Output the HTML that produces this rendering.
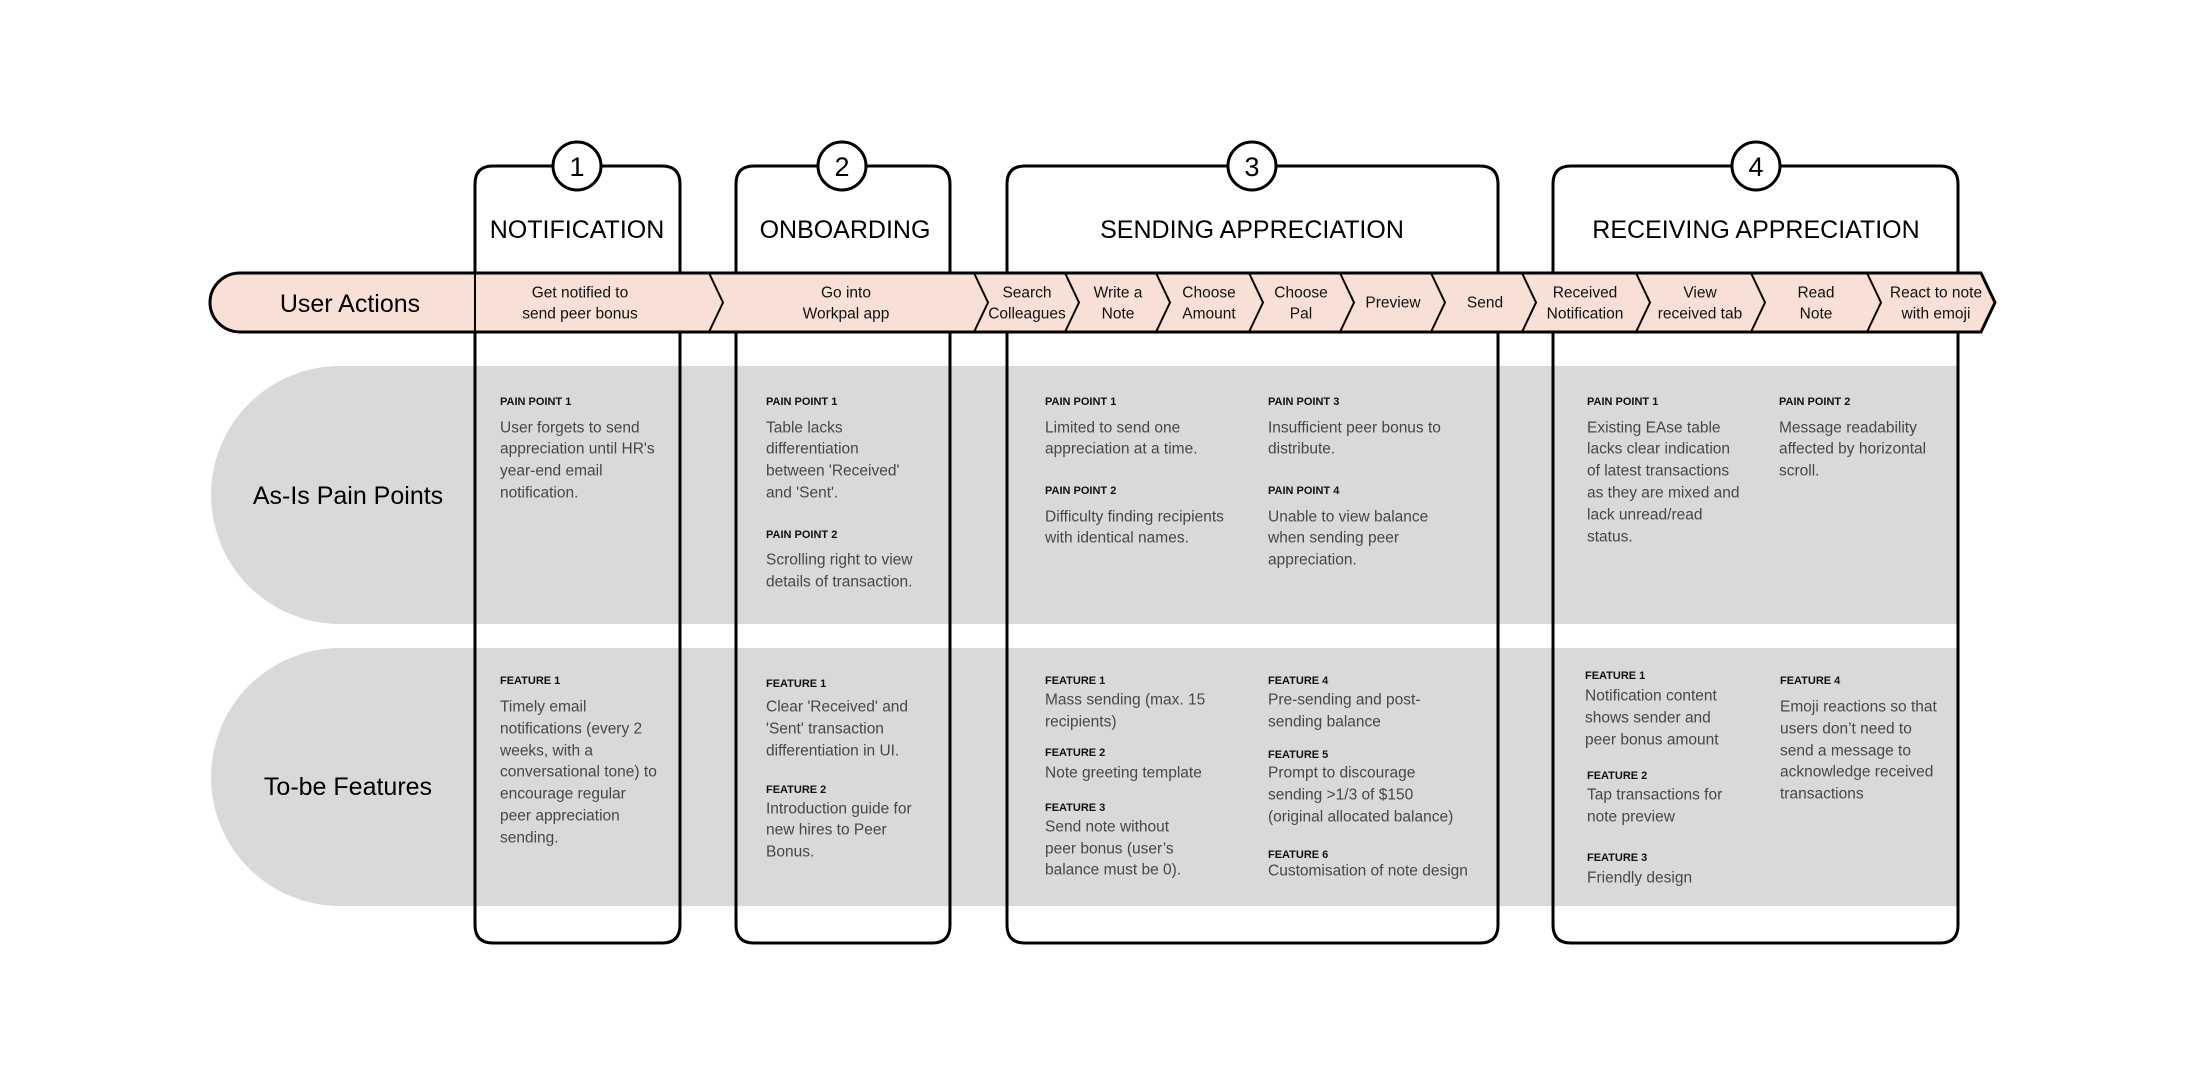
<!DOCTYPE html>
<html><head><meta charset="utf-8"><style>
html,body{margin:0;padding:0;background:#fff;}
svg{display:block;}
text{font-family:"Liberation Sans",sans-serif;}
.b{font-size:15.5px;fill:#474747;dominant-baseline:central;}
.h{font-size:11px;font-weight:bold;fill:#111;dominant-baseline:central;}
.s{font-size:15.5px;fill:#111;dominant-baseline:central;text-anchor:middle;}
.t{font-size:25px;fill:#000;dominant-baseline:central;text-anchor:middle;}
.n{font-size:27px;fill:#000;dominant-baseline:central;text-anchor:middle;}
</style></head><body>
<svg width="2208" height="1090" viewBox="0 0 2208 1090" xmlns="http://www.w3.org/2000/svg">
<!-- gray bands -->
<path d="M340,366 H1957 V624 H340 A129,129 0 0 1 340,366 Z" fill="#d9d9d9"/>
<path d="M340,648 H1957 V906 H340 A129,129 0 0 1 340,648 Z" fill="#d9d9d9"/>

<!-- boxes -->
<g fill="none" stroke="#000" stroke-width="3">
<path d="M475,184 Q475,166 493,166 H662 Q680,166 680,184 V925 Q680,943 662,943 H493 Q475,943 475,925 Z"/>
<path d="M736,184 Q736,166 754,166 H932 Q950,166 950,184 V925 Q950,943 932,943 H754 Q736,943 736,925 Z"/>
<path d="M1007,184 Q1007,166 1025,166 H1480 Q1498,166 1498,184 V925 Q1498,943 1480,943 H1025 Q1007,943 1007,925 Z"/>
<path d="M1553,184 Q1553,166 1571,166 H1940 Q1958,166 1958,184 V925 Q1958,943 1940,943 H1571 Q1553,943 1553,925 Z"/>
</g>
<g fill="#fff" stroke="#000" stroke-width="3">
<circle cx="577" cy="166" r="24"/><circle cx="842" cy="166" r="24"/>
<circle cx="1252" cy="166" r="24"/><circle cx="1756" cy="166" r="24"/>
</g>
<text class="n" x="577" y="167">1</text><text class="n" x="842" y="167">2</text>
<text class="n" x="1252" y="167">3</text><text class="n" x="1756" y="167">4</text>
<text class="t" x="577" y="230">NOTIFICATION</text>
<text class="t" x="845" y="230">ONBOARDING</text>
<text class="t" x="1252" y="230">SENDING APPRECIATION</text>
<text class="t" x="1756" y="230">RECEIVING APPRECIATION</text>

<!-- user actions band -->
<path d="M240,273 H1981 L1995,302.5 L1981,332 H240 A30,29.5 0 0 1 240,273 Z" fill="#f9e0d7" stroke="#000" stroke-width="3"/>
<g fill="none" stroke="#000" stroke-width="2">
<line x1="475" y1="273" x2="475" y2="332"/>
<path d="M709,273 L723,302.5 L709,332"/>
<path d="M974,273 L988,302.5 L974,332"/>
<path d="M1065,273 L1079,302.5 L1065,332"/>
<path d="M1156,273 L1170,302.5 L1156,332"/>
<path d="M1249,273 L1263,302.5 L1249,332"/>
<path d="M1340,273 L1354,302.5 L1340,332"/>
<path d="M1431,273 L1445,302.5 L1431,332"/>
<path d="M1522,273 L1536,302.5 L1522,332"/>
<path d="M1636,273 L1650,302.5 L1636,332"/>
<path d="M1751,273 L1765,302.5 L1751,332"/>
<path d="M1867,273 L1881,302.5 L1867,332"/>
</g>
<text class="t" x="350" y="304">User Actions</text>
<g class="s">
<text class="s" x="580" y="293">Get notified to</text><text class="s" x="580" y="314">send peer bonus</text>
<text class="s" x="846" y="293">Go into</text><text class="s" x="846" y="314">Workpal app</text>
<text class="s" x="1027" y="293">Search</text><text class="s" x="1027" y="314">Colleagues</text>
<text class="s" x="1118" y="293">Write a</text><text class="s" x="1118" y="314">Note</text>
<text class="s" x="1209" y="293">Choose</text><text class="s" x="1209" y="314">Amount</text>
<text class="s" x="1301" y="293">Choose</text><text class="s" x="1301" y="314">Pal</text>
<text class="s" x="1393" y="303">Preview</text>
<text class="s" x="1485" y="303">Send</text>
<text class="s" x="1585" y="293">Received</text><text class="s" x="1585" y="314">Notification</text>
<text class="s" x="1700" y="293">View</text><text class="s" x="1700" y="314">received tab</text>
<text class="s" x="1816" y="293">Read</text><text class="s" x="1816" y="314">Note</text>
<text class="s" x="1936" y="293">React to note</text><text class="s" x="1936" y="314">with emoji</text>
</g>

<text class="t" x="348" y="496">As-Is Pain Points</text>
<text class="t" x="348" y="787">To-be Features</text>

<!-- pain points -->
<text class="h" x="500" y="402">PAIN POINT 1</text>
<text class="b" x="500" y="428">User forgets to send</text>
<text class="b" x="500" y="449">appreciation until HR's</text>
<text class="b" x="500" y="471">year-end email</text>
<text class="b" x="500" y="493">notification.</text>

<text class="h" x="766" y="402">PAIN POINT 1</text>
<text class="b" x="766" y="428">Table lacks</text>
<text class="b" x="766" y="449">differentiation</text>
<text class="b" x="766" y="471">between 'Received'</text>
<text class="b" x="766" y="493">and 'Sent'.</text>
<text class="h" x="766" y="535">PAIN POINT 2</text>
<text class="b" x="766" y="560">Scrolling right to view</text>
<text class="b" x="766" y="582">details of transaction.</text>

<text class="h" x="1045" y="402">PAIN POINT 1</text>
<text class="b" x="1045" y="428">Limited to send one</text>
<text class="b" x="1045" y="449">appreciation at a time.</text>
<text class="h" x="1045" y="491">PAIN POINT 2</text>
<text class="b" x="1045" y="517">Difficulty finding recipients</text>
<text class="b" x="1045" y="538">with identical names.</text>
<text class="h" x="1268" y="402">PAIN POINT 3</text>
<text class="b" x="1268" y="428">Insufficient peer bonus to</text>
<text class="b" x="1268" y="449">distribute.</text>
<text class="h" x="1268" y="491">PAIN POINT 4</text>
<text class="b" x="1268" y="517">Unable to view balance</text>
<text class="b" x="1268" y="538">when sending peer</text>
<text class="b" x="1268" y="560">appreciation.</text>

<text class="h" x="1587" y="402">PAIN POINT 1</text>
<text class="b" x="1587" y="428">Existing EAse table</text>
<text class="b" x="1587" y="449">lacks clear indication</text>
<text class="b" x="1587" y="471">of latest transactions</text>
<text class="b" x="1587" y="493">as they are mixed and</text>
<text class="b" x="1587" y="515">lack unread/read</text>
<text class="b" x="1587" y="537">status.</text>
<text class="h" x="1779" y="402">PAIN POINT 2</text>
<text class="b" x="1779" y="428">Message readability</text>
<text class="b" x="1779" y="449">affected by horizontal</text>
<text class="b" x="1779" y="471">scroll.</text>

<!-- features -->
<text class="h" x="500" y="681">FEATURE 1</text>
<text class="b" x="500" y="707">Timely email</text>
<text class="b" x="500" y="729">notifications (every 2</text>
<text class="b" x="500" y="751">weeks, with a</text>
<text class="b" x="500" y="772">conversational tone) to</text>
<text class="b" x="500" y="794">encourage regular</text>
<text class="b" x="500" y="816">peer appreciation</text>
<text class="b" x="500" y="838">sending.</text>

<text class="h" x="766" y="684">FEATURE 1</text>
<text class="b" x="766" y="707">Clear 'Received' and</text>
<text class="b" x="766" y="729">'Sent' transaction</text>
<text class="b" x="766" y="751">differentiation in UI.</text>
<text class="h" x="766" y="790">FEATURE 2</text>
<text class="b" x="766" y="809">Introduction guide for</text>
<text class="b" x="766" y="830">new hires to Peer</text>
<text class="b" x="766" y="852">Bonus.</text>

<text class="h" x="1045" y="681">FEATURE 1</text>
<text class="b" x="1045" y="700">Mass sending (max. 15</text>
<text class="b" x="1045" y="722">recipients)</text>
<text class="h" x="1045" y="753">FEATURE 2</text>
<text class="b" x="1045" y="773">Note greeting template</text>
<text class="h" x="1045" y="808">FEATURE 3</text>
<text class="b" x="1045" y="827">Send note without</text>
<text class="b" x="1045" y="849">peer bonus (user’s</text>
<text class="b" x="1045" y="870">balance must be 0).</text>
<text class="h" x="1268" y="681">FEATURE 4</text>
<text class="b" x="1268" y="700">Pre-sending and post-</text>
<text class="b" x="1268" y="722">sending balance</text>
<text class="h" x="1268" y="755">FEATURE 5</text>
<text class="b" x="1268" y="773">Prompt to discourage</text>
<text class="b" x="1268" y="795">sending &gt;1/3 of $150</text>
<text class="b" x="1268" y="817">(original allocated balance)</text>
<text class="h" x="1268" y="855">FEATURE 6</text>
<text class="b" x="1268" y="871">Customisation of note design</text>

<text class="h" x="1585" y="676">FEATURE 1</text>
<text class="b" x="1585" y="696">Notification content</text>
<text class="b" x="1585" y="718">shows sender and</text>
<text class="b" x="1585" y="740">peer bonus amount</text>
<text class="h" x="1587" y="776">FEATURE 2</text>
<text class="b" x="1587" y="795">Tap transactions for</text>
<text class="b" x="1587" y="817">note preview</text>
<text class="h" x="1587" y="858">FEATURE 3</text>
<text class="b" x="1587" y="878">Friendly design</text>
<text class="h" x="1780" y="681">FEATURE 4</text>
<text class="b" x="1780" y="707">Emoji reactions so that</text>
<text class="b" x="1780" y="729">users don’t need to</text>
<text class="b" x="1780" y="751">send a message to</text>
<text class="b" x="1780" y="772">acknowledge received</text>
<text class="b" x="1780" y="794">transactions</text>
</svg>
</body></html>
